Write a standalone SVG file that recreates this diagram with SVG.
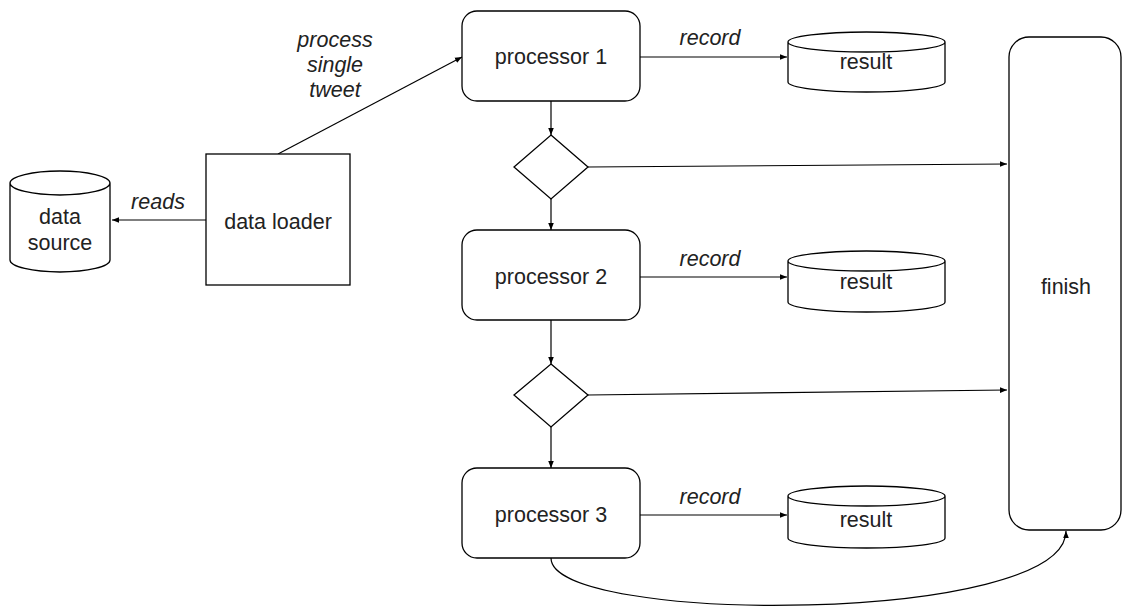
<svg xmlns="http://www.w3.org/2000/svg" width="1123" height="607" viewBox="0 0 1123 607">
<style>
.s{fill:#fff;stroke:#000;stroke-width:1.3}
.t{font-family:"Liberation Sans",Arial,sans-serif;font-size:21.5px;fill:#222;text-anchor:middle}
.i{font-style:italic}
.c{fill:none;stroke:#000;stroke-width:1.2}
</style>
<defs>
<marker id="a" viewBox="0 0 10 10" refX="10" refY="5" markerWidth="7" markerHeight="7" orient="auto" markerUnits="userSpaceOnUse"><path d="M0,1 L10,5 L0,9 z" fill="#000"/></marker>
</defs>
<rect width="1123" height="607" fill="#fff"/>
<g id="connectors">
<path class="c" d="M206,220 L112,220" marker-end="url(#a)"/>
<path class="c" d="M278,154 L462,57" marker-end="url(#a)"/>
<path class="c" d="M640,57 L787,57" marker-end="url(#a)"/>
<path class="c" d="M551,101 L551,135" marker-end="url(#a)"/>
<path class="c" d="M588,167 L1007,164" marker-end="url(#a)"/>
<path class="c" d="M551,199 L551,230" marker-end="url(#a)"/>
<path class="c" d="M640,277 L787,277" marker-end="url(#a)"/>
<path class="c" d="M551,320 L551,364" marker-end="url(#a)"/>
<path class="c" d="M588,395 L1007,390" marker-end="url(#a)"/>
<path class="c" d="M551,427 L551,468" marker-end="url(#a)"/>
<path class="c" d="M640,515 L787,515" marker-end="url(#a)"/>
<path class="c" d="M551,558 C551,625 1066,625 1066,531" marker-end="url(#a)"/>
<text class="t i" x="158" y="209">reads</text>
<text class="t i" x="335" y="47">process</text>
<text class="t i" x="335" y="72">single</text>
<text class="t i" x="335" y="97">tweet</text>
<text class="t i" x="710" y="45">record</text>
<text class="t i" x="710" y="266">record</text>
<text class="t i" x="710" y="504">record</text>
</g>
<g id="datasource">
<path class="s" d="M10,183 L10,260 A50,12 0 0 0 110,260 L110,183 A50,12 0 0 0 10,183 A50,12 0 0 0 110,183"/>
<text class="t" x="60" y="224">data</text>
<text class="t" x="60" y="250">source</text>
</g>
<g id="dataloader">
<rect class="s" x="206" y="154" width="144" height="131"/>
<text class="t" x="278" y="229">data loader</text>
</g>
<g id="processor1">
<rect class="s" x="462" y="11" width="178" height="90" rx="15"/>
<text class="t" x="551" y="64">processor 1</text>
</g>
<g id="result1">
<path class="s" d="M788,42 L788,82 A78.5,10 0 0 0 945,82 L945,42 A78.5,10 0 0 0 788,42 A78.5,10 0 0 0 945,42"/>
<text class="t" x="866" y="69">result</text>
</g>
<g id="decision1">
<path class="s" d="M551,135 L588,167 L551,199 L514,167 Z"/>
</g>
<g id="processor2">
<rect class="s" x="462" y="230" width="178" height="90" rx="15"/>
<text class="t" x="551" y="284">processor 2</text>
</g>
<g id="result2">
<path class="s" d="M788,261 L788,302 A78.5,10 0 0 0 945,302 L945,261 A78.5,10 0 0 0 788,261 A78.5,10 0 0 0 945,261"/>
<text class="t" x="866" y="289">result</text>
</g>
<g id="decision2">
<path class="s" d="M551,364 L588,395 L551,427 L514,395 Z"/>
</g>
<g id="processor3">
<rect class="s" x="462" y="468" width="178" height="90" rx="15"/>
<text class="t" x="551" y="522">processor 3</text>
</g>
<g id="result3">
<path class="s" d="M788,496 L788,538 A78.5,10 0 0 0 945,538 L945,496 A78.5,10 0 0 0 788,496 A78.5,10 0 0 0 945,496"/>
<text class="t" x="866" y="527">result</text>
</g>
<g id="finish">
<rect class="s" x="1009" y="37" width="112" height="493" rx="20"/>
<text class="t" x="1066" y="294">finish</text>
</g>
</svg>
